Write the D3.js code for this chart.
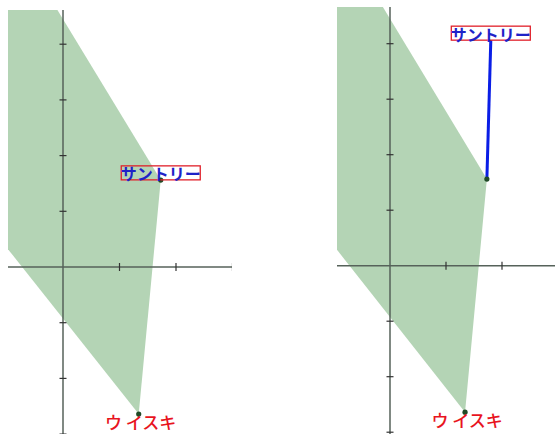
<!DOCTYPE html>
<html><head><meta charset="utf-8">
<script src="https://cdn.jsdelivr.net/npm/d3@7"></script>
<style>html,body{margin:0;padding:0;background:#fff;}svg{display:block;}</style>
</head><body>
<svg id="chart" width="555" height="434"></svg>
<script>
// Feasible region (data coordinates)
const regionX = [-1.2, -0.21, 1.73, 1.34, -1.2];
const regionY = [4.8, 4.8, 1.56, -2.64, 0.61];
// Named points
const pointNames = ["サントリー", "ウ イスキ"];
const pointX = [1.73, 1.34];
const pointY = [1.56, -2.64];
// Suntory label position in each panel (data coords)
const panelNames = ["before", "after"];
const suntoryLabelX = [1.73, 1.80];
const suntoryLabelY = [1.69, 4.19];
// Ticks
const xTicks = [1, 2, 3];
const yTicks = [-3, -2, -1, 1, 2, 3, 4];

const svg = d3.select("#chart");
const layouts = [
  {ox: 63, oy: 267, ux: 56.5, uy: 55.7, clip: [8, 10, 232, 434], xEnd: 3},
  {ox: 390, oy: 265.7, ux: 56, uy: 55.5, clip: [337, 7, 555, 434], xEnd: 3.2}
];

panelNames.forEach((name, i) => {
  const L = layouts[i];
  const x = d3.scaleLinear().domain([0, 1]).range([L.ox, L.ox + L.ux]);
  const y = d3.scaleLinear().domain([0, 1]).range([L.oy, L.oy - L.uy]);
  const clipId = "clip-" + name;
  svg.append("clipPath").attr("id", clipId).append("rect")
    .attr("x", L.clip[0]).attr("y", L.clip[1])
    .attr("width", L.clip[2] - L.clip[0]).attr("height", L.clip[3] - L.clip[1]);
  const g = svg.append("g").attr("clip-path", `url(#${clipId})`);

  // region
  const pts = regionX.map((v, k) => [x(v), y(regionY[k])]);
  g.append("path").attr("d", d3.line()(pts) + "Z")
    .attr("fill", "#b4d4b5").attr("stroke", "none");

  // axes
  const xMin = x.invert(L.clip[0]);
  const axisColor = "#56625a";
  g.append("line").attr("x1", x(xMin)).attr("x2", x(L.xEnd))
    .attr("y1", y(0)).attr("y2", y(0))
    .attr("stroke", axisColor).attr("stroke-width", 1.5);
  g.append("line").attr("x1", x(0)).attr("x2", x(0))
    .attr("y1", L.clip[1]).attr("y2", L.clip[3])
    .attr("stroke", axisColor).attr("stroke-width", 1.5);
  g.selectAll(".xt").data(xTicks).enter().append("line")
    .attr("x1", d => x(d)).attr("x2", d => x(d))
    .attr("y1", y(0) - 4).attr("y2", y(0) + 4)
    .attr("stroke", "#333").attr("stroke-width", 1.2);
  g.selectAll(".yt").data(yTicks).enter().append("line")
    .attr("y1", d => y(d)).attr("y2", d => y(d))
    .attr("x1", x(0) - 3.5).attr("x2", x(0) + 3.5)
    .attr("stroke", "#333").attr("stroke-width", 1.2);

  // leader line (after panel)
  const lx = x(suntoryLabelX[i]), ly = y(suntoryLabelY[i]);
  if (i === 1) {
    g.append("line").attr("x1", x(pointX[0])).attr("y1", y(pointY[0]))
      .attr("x2", lx).attr("y2", ly + 7)
      .attr("stroke", "#0a1ee6").attr("stroke-width", 3);
  }

  // points
  g.selectAll(".pt").data(pointX).enter().append("circle")
    .attr("cx", d => x(d)).attr("cy", (d, k) => y(pointY[k])).attr("r", 2.6)
    .attr("fill", "#1f4a26");

  // Suntory label with red box
  const t = g.append("text").attr("x", lx).attr("y", ly + 0.5)
    .attr("text-anchor", "middle").attr("dominant-baseline", "central")
    .attr("font-family", "'Noto Sans CJK JP', sans-serif")
    .attr("font-size", 16).attr("font-weight", 700)
    .attr("fill", "#1e22c8").text(pointNames[0]);
  const bw = 79, bh = 14;
  g.insert("rect", () => t.node())
    .attr("x", lx - bw / 2).attr("y", ly - bh / 2).attr("width", bw).attr("height", bh)
    .attr("fill", "none").attr("stroke", "#e0202a").attr("stroke-width", 1.3);

  // Whisky label
  g.append("text").attr("x", x(pointX[1]) + 2).attr("y", y(pointY[1]) + 7)
    .attr("text-anchor", "middle").attr("dominant-baseline", "central")
    .attr("font-family", "'Noto Sans CJK JP', sans-serif")
    .attr("font-size", 17).attr("font-weight", 500)
    .attr("fill", "#e8141e").text(pointNames[1]);
});
</script>
</body></html>
